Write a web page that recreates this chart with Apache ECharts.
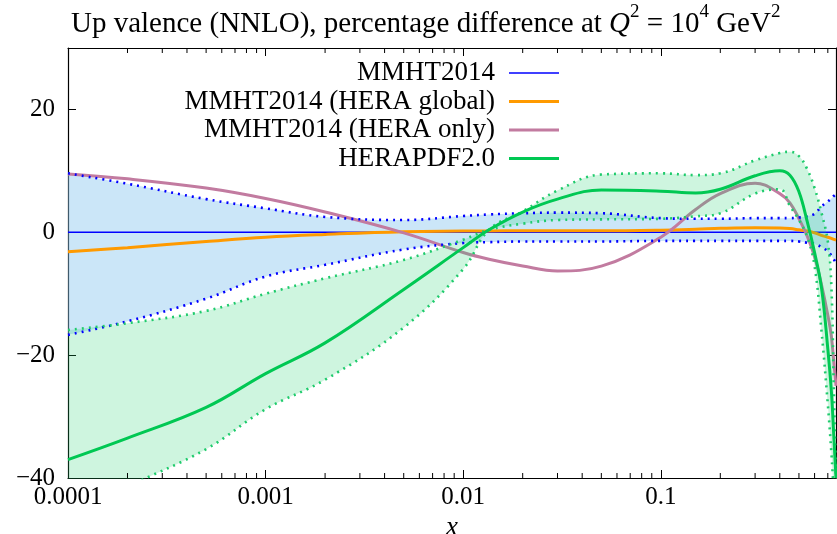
<!DOCTYPE html>
<html>
<head>
<meta charset="utf-8">
<script src="https://cdn.jsdelivr.net/npm/echarts@6/dist/echarts.min.js"></script>
<style>
html,body{margin:0;padding:0;background:#fff;}
#main{width:837px;height:534px;}
</style>
</head>
<body>
<div id="main"></div>
<script>
// x grid shared by every curve
var xs = [0.0001, 0.0002, 0.0005, 0.001, 0.002, 0.005, 0.01, 0.0135, 0.02, 0.03, 0.05, 0.1, 0.15, 0.2, 0.3, 0.4, 0.45, 0.5, 0.55, 0.6, 0.65, 0.7, 0.73, 0.75, 0.77];

// MMHT2014 band (percent)
var mmhtUp = [9.6, 7.9, 5.4, 3.9, 2.5, 2.0, 2.65, 2.9, 3.1, 3.2, 3.1, 2.3, 2.2, 2.2, 2.3, 2.3, 2.3, 2.4, 2.6, 3.0, 4.2, 5.0, 5.5, 5.9, 6.2];
var mmhtLo = [-16.7, -14.5, -10.8, -7.2, -5.3, -2.8, -1.75, -1.6, -1.5, -1.5, -1.5, -1.4, -1.4, -1.4, -1.4, -1.4, -1.4, -1.5, -1.7, -1.9, -2.4, -3.1, -3.8, -4.4, -5.0];
var mmhtMid = [0, 0, 0, 0, 0, 0, 0, 0, 0, 0, 0, 0, 0, 0, 0, 0, 0, 0, 0, 0, 0, 0, 0, 0, 0];

// MMHT2014 fits to HERA data
var heraGlobal = [-3.15, -2.5, -1.5, -0.8, -0.35, 0.1, 0.2, 0.22, 0.25, 0.25, 0.25, 0.35, 0.5, 0.65, 0.75, 0.7, 0.6, 0.4, 0.2, -0.1, -0.5, -0.8, -1.0, -1.15, -1.25];
var heraOnly = [9.5, 8.7, 7.2, 5.5, 3.3, -0.1, -3.3, -4.4, -5.5, -6.3, -5.5, -0.8, 3.7, 6.3, 8.0, 6.3, 4.8, 2.2, -0.6, -4.0, -8.5, -13.5, -17, -21, -25];

// HERAPDF2.0 central and band edges (the band pinches near x = 0.0135)
var hera20 = [-37.0, -33.5, -28.5, -23.0, -18.0, -9.3, -2.5, 0.4, 3.3, 5.4, 6.9, 6.7, 6.4, 7.0, 9.2, 10.0, 9.3, 6.6, 1.8, -3.3, -9, -19, -26, -33, -40];
var heraEdgeA = [-15.9, -14.8, -12.8, -10.0, -7.5, -4.5, -1.2, 0.4, 1.4, 2.0, 2.1, 2.2, 2.6, 3.1, 6.3, 7.0, 4.3, 2.0, -0.7, -5.5, -16, -28, -36, -42, -46];
var heraEdgeB = [-47, -41.5, -35.3, -28.8, -24, -15.5, -6.0, 0.4, 3.4, 6.8, 9.4, 9.6, 9.3, 9.6, 11.7, 12.9, 13.1, 12.4, 10.3, 7.2, 3.2, -1.5, -9, -25, -40];

var xTickLabels = ['0.0001', '0.001', '0.01', '0.1'];
var minorTicks = [0.0002, 0.0003, 0.0004, 0.0005, 0.0006, 0.0007, 0.0008, 0.0009,
    0.002, 0.003, 0.004, 0.005, 0.006, 0.007, 0.008, 0.009,
    0.02, 0.03, 0.04, 0.05, 0.06, 0.07, 0.08, 0.09,
    0.2, 0.3, 0.4, 0.5, 0.6, 0.7];

var xMin = 0.0001, xMax = 0.77, yMin = -40, yMax = 30;
var serif = 'Liberation Serif';

var cBlue = '#0000ff', cOrange = '#ff9a00', cPink = '#c27ba0', cGreen = '#00c853', cGreenDot = '#1fcb6c';

function pairs(ys) {
    return xs.map(function (x, i) { return [x, ys[i]]; });
}
// band series keep y first so the stack works on y (x axis is not a category)
function pairsYX(ys) {
    return xs.map(function (x, i) { return [ys[i], x]; });
}
function gapYX(lo, up) {
    return xs.map(function (x, i) { return [up[i] - lo[i], x]; });
}

function plainLine(name, ys, color, width, z) {
    return {
        name: name, type: 'line', data: pairs(ys), smooth: 0.4, symbol: 'none', z: z,
        lineStyle: {color: color, width: width}, itemStyle: {color: color}
    };
}
function dotLine(name, ys, color) {
    return {
        name: name, type: 'line', data: pairs(ys), smooth: 0.4, symbol: 'none', z: 6,
        lineStyle: {color: color, width: 2.6, type: [2, 5], cap: 'butt'}
    };
}
function bandBase(name, lo, stack, z) {
    return {
        name: name, type: 'line', data: pairsYX(lo), encode: {x: 1, y: 0}, z: z,
        smooth: 0.4, symbol: 'none', stack: stack, stackStrategy: 'all',
        lineStyle: {opacity: 0}
    };
}
function bandFill(name, lo, up, stack, color, alpha, z) {
    return {
        name: name, type: 'line', data: gapYX(lo, up), encode: {x: 1, y: 0}, z: z,
        smooth: 0.4, symbol: 'none', stack: stack, stackStrategy: 'all',
        lineStyle: {opacity: 0}, areaStyle: {color: color, opacity: alpha}
    };
}

var axisLineStyle = {color: '#000', width: 1.2};
var tickLineStyle = {color: '#000', width: 1};

var myChart = echarts.init(document.getElementById('main'));

var option = {
    animation: false,
    title: {
        left: 66, top: -2,
        text: '{n|Up valence (NNLO), percentage difference at }{i|Q}{s|2}{n| = 10}{s|4}{n| GeV}{s|2}',
        textStyle: {
            fontWeight: 'normal',
            rich: {
                n: {fontFamily: serif, fontSize: 29, fontWeight: 'normal', color: '#000', lineHeight: 36, verticalAlign: 'bottom'},
                i: {fontFamily: serif, fontSize: 29, fontWeight: 'normal', fontStyle: 'italic', color: '#000', lineHeight: 36, verticalAlign: 'bottom'},
                s: {fontFamily: serif, fontSize: 19, fontWeight: 'normal', color: '#000', lineHeight: 19, verticalAlign: 'top'}
            }
        }
    },
    legend: {
        orient: 'vertical', align: 'right', right: 278, top: 59, padding: 0,
        itemWidth: 50, itemHeight: 14, itemGap: 0.5,
        textStyle: {fontFamily: serif, fontSize: 27, color: '#000', lineHeight: 28, padding: [0, 9, 0, 0]},
        itemStyle: {borderWidth: 0},
        data: [
            {name: 'MMHT2014', icon: 'path://M0,0L50,0L50,1.5L0,1.5Z', itemStyle: {color: cBlue}},
            {name: 'MMHT2014 (HERA global)', icon: 'path://M0,0L50,0L50,3L0,3Z', itemStyle: {color: cOrange}},
            {name: 'MMHT2014 (HERA only)', icon: 'path://M0,0L50,0L50,3L0,3Z', itemStyle: {color: cPink}},
            {name: 'HERAPDF2.0', icon: 'path://M0,0L50,0L50,3L0,3Z', itemStyle: {color: cGreen}}
        ]
    },
    grid: {left: 68, right: 1, top: 48, bottom: 56, outerBoundsMode: 'none', containLabel: false},
    xAxis: [{
        type: 'log', logBase: 10, min: xMin, max: xMax,
        name: 'x', nameLocation: 'middle', nameGap: 33,
        nameTextStyle: {fontFamily: serif, fontSize: 27, fontStyle: 'italic', color: '#000'},
        axisLine: {show: true, onZero: false, lineStyle: axisLineStyle},
        axisTick: {show: true, inside: true, length: 8, lineStyle: tickLineStyle},
        axisLabel: {
            fontFamily: serif, fontSize: 25, color: '#000', margin: 7, showMaxLabel: false,
            formatter: function (v) {
                var e = Math.round(Math.log(v) / Math.LN10);
                return xTickLabels[e + 4] || '';
            }
        },
        splitLine: {show: false}
    }, {
        type: 'log', logBase: 10, min: xMin, max: xMax, position: 'top',
        axisLine: {show: true, onZero: false, lineStyle: axisLineStyle},
        axisTick: {show: true, inside: true, length: 8, lineStyle: tickLineStyle},
        axisLabel: {show: false},
        splitLine: {show: false}
    }],
    yAxis: [{
        type: 'value', min: yMin, max: yMax, interval: 20,
        axisLine: {show: true, onZero: false, lineStyle: axisLineStyle},
        axisTick: {show: true, inside: true, length: 8, lineStyle: tickLineStyle},
        axisLabel: {
            fontFamily: serif, fontSize: 25, color: '#000', margin: 13, showMaxLabel: false,
            formatter: function (v) { return String(v).replace('-', '\u2212'); }
        },
        splitLine: {show: false}
    }, {
        type: 'value', min: yMin, max: yMax, interval: 20, position: 'right',
        axisLine: {show: true, onZero: false, lineStyle: axisLineStyle},
        axisTick: {show: true, inside: true, length: 8, lineStyle: tickLineStyle},
        axisLabel: {show: false},
        splitLine: {show: false}
    }],
    series: [
        bandBase('mmhtLoBase', mmhtLo, 'mmht', 1),
        bandFill('mmhtBand', mmhtLo, mmhtUp, 'mmht', '#8cc8f0', 0.45, 1),
        plainLine('MMHT2014', mmhtMid, cBlue, 1.5, 2),
        plainLine('MMHT2014 (HERA global)', heraGlobal, cOrange, 3, 2),
        plainLine('MMHT2014 (HERA only)', heraOnly, cPink, 3, 2),
        bandBase('heraBase', heraEdgeA, 'hera', 3),
        bandFill('heraBand', heraEdgeA, heraEdgeB, 'hera', '#1ed26e', 0.22, 3),
        dotLine('mmhtUpDots', mmhtUp, cBlue),
        dotLine('mmhtLoDots', mmhtLo, cBlue),
        dotLine('heraADots', heraEdgeA, cGreenDot),
        dotLine('heraBDots', heraEdgeB, cGreenDot),
        plainLine('HERAPDF2.0', hera20, cGreen, 3, 7),
        {
            name: 'minorTicks', type: 'custom', z: 10, silent: true,
            data: minorTicks.map(function (v) { return [v, 0]; }),
            encode: {x: 0, y: 1},
            renderItem: function (params, api) {
                var v = api.value(0);
                var b = api.coord([v, yMin]);
                var t = api.coord([v, yMax]);
                return {
                    type: 'group',
                    children: [
                        {type: 'line', shape: {x1: b[0], y1: b[1], x2: b[0], y2: b[1] - 5}, style: {stroke: '#000', lineWidth: 1}},
                        {type: 'line', shape: {x1: t[0], y1: t[1], x2: t[0], y2: t[1] + 5}, style: {stroke: '#000', lineWidth: 1}}
                    ]
                };
            }
        }
    ]
};

myChart.setOption(option);
</script>
</body>
</html>
